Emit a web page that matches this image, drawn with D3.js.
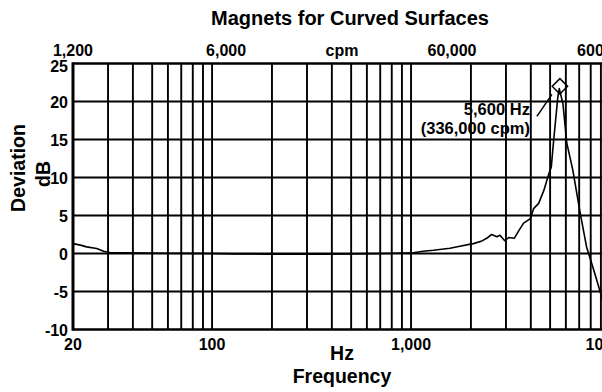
<!DOCTYPE html>
<html>
<head>
<meta charset="utf-8">
<script src="https://cdn.jsdelivr.net/npm/d3@7"></script>
<style>
  body { margin: 0; background: #fff; }
  svg { display: block; font-family: Arial, "Liberation Sans", sans-serif; font-weight: bold; }
</style>
</head>
<body>
<svg id="chart" width="602" height="392"></svg>
<script>
// Frequency response of the magnet mount (Hz vs. deviation in dB)
const freqHz = [20, 21.8, 23.4, 26.3, 28.5, 30.6, 37, 45, 60, 80, 100, 130, 180, 250, 350, 500, 724, 1027, 1149, 1295, 1570, 1760, 1960, 2060, 2250, 2400, 2540, 2700, 2800, 2950, 3100, 3300, 3500, 3680, 3980, 4130, 4380, 4650, 4930, 5070, 5210, 5390, 5470, 5560, 5800, 6070, 6500, 7040, 7620, 8380, 8870, 9500];
const devDb  = [1.3, 1.1, 0.87, 0.66, 0.3, 0.13, 0.1, 0.05, 0.03, 0.02, 0.0, -0.05, -0.08, -0.1, -0.08, -0.05, 0.0, 0.1, 0.3, 0.43, 0.7, 0.96, 1.2, 1.3, 1.6, 2.0, 2.5, 2.2, 2.4, 1.7, 2.1, 2.0, 3.1, 4.0, 4.6, 5.9, 6.6, 8.3, 10.5, 11.4, 14.9, 18.9, 20.6, 21.7, 19.7, 14.5, 11.0, 5.7, 0.9, -2.6, -4.8, -7.5];

const yTicks = [-10, -5, 0, 5, 10, 15, 20, 25];
const hzTicks = [20, 100, 1000, 10000];
const cpmTicks = [1200, 6000, 60000, 600000];
const gridHz = [20, 30, 40, 50, 60, 70, 80, 90, 100,
                200, 300, 400, 500, 600, 700, 800, 900, 1000,
                2000, 3000, 4000, 5000, 6000, 7000, 8000, 9000, 10000];
const peakHz = 5600;
const peakDb = 22;
const peakCpm = 336000;

const svg = d3.select("#chart");
const plotL = 73, plotR = 610, plotT = 63.5, plotB = 329.5;

const x = d3.scaleLog().domain([20, 10000]).range([plotL, plotR]);
const y = d3.scaleLinear().domain([-10, 25]).range([plotB, plotT]);
const fmt = d3.format(",");

// grid
svg.append("g").selectAll("line").data(gridHz).join("line")
  .attr("x1", d => x(d)).attr("x2", d => x(d))
  .attr("y1", plotT).attr("y2", plotB)
  .attr("stroke", "#000").attr("stroke-width", 1.9);
svg.append("g").selectAll("line").data(yTicks).join("line")
  .attr("x1", plotL).attr("x2", plotR)
  .attr("y1", d => y(d)).attr("y2", d => y(d))
  .attr("stroke", "#000").attr("stroke-width", d => (d === 25 || d === -10) ? 2.6 : 1.9);
svg.append("line").attr("x1", plotL).attr("x2", plotL).attr("y1", plotT - 1.3).attr("y2", plotB + 1.3)
  .attr("stroke", "#000").attr("stroke-width", 3);

// y tick labels
svg.append("g").selectAll("text").data(yTicks).join("text")
  .attr("x", plotL - 5).attr("y", d => y(d)).attr("dy", d => d === 25 ? "0.5em" : "0.4em")
  .attr("text-anchor", "end").attr("font-size", 16).text(d => d);

// bottom tick labels
svg.append("g").selectAll("text").data(hzTicks).join("text")
  .attr("x", d => x(d)).attr("y", 350)
  .attr("text-anchor", "middle").attr("font-size", 16).text(d => fmt(d));

// top cpm labels
const cpmShift = [0, 14, 41, -4];
svg.append("g").selectAll("text").data(cpmTicks).join("text")
  .attr("x", (d, i) => x(d / 60) + cpmShift[i]).attr("y", 56)
  .attr("text-anchor", "middle").attr("font-size", 16).text(d => fmt(d));
svg.append("text").attr("x", 342).attr("y", 56).attr("text-anchor", "middle")
  .attr("font-size", 16).text("cpm");

// titles
svg.append("text").attr("x", 350).attr("y", 25).attr("text-anchor", "middle")
  .attr("font-size", 20).text("Magnets for Curved Surfaces");
svg.append("text").attr("x", 342).attr("y", 360).attr("text-anchor", "middle")
  .attr("font-size", 19.5).text("Hz");
svg.append("text").attr("x", 342).attr("y", 383).attr("text-anchor", "middle")
  .attr("font-size", 19.5).text("Frequency");
svg.append("text").attr("transform", "translate(25,168) rotate(-90)").attr("text-anchor", "middle")
  .attr("font-size", 19.5).text("Deviation");
svg.append("text").attr("transform", "translate(50,174) rotate(-90)").attr("text-anchor", "middle")
  .attr("font-size", 19.5).text("dB");

// response curve
const line = d3.line().x((d, i) => x(freqHz[i])).y(d => y(d)).curve(d3.curveLinear);
svg.append("path").datum(devDb).attr("d", line)
  .attr("fill", "none").attr("stroke", "#000").attr("stroke-width", 1.6)
  .attr("stroke-linejoin", "round");

// resonance marker and callout
const px = x(peakHz), py = y(peakDb);
svg.append("path").attr("d", d3.symbol(d3.symbolDiamond2, 150)())
  .attr("transform", `translate(${px},${py})`)
  .attr("fill", "none").attr("stroke", "#000").attr("stroke-width", 1.5);
svg.append("line").attr("x1", px - 23).attr("y1", py + 30).attr("x2", px - 8).attr("y2", py + 8)
  .attr("stroke", "#000").attr("stroke-width", 1.5);
svg.append("text").attr("x", px - 30).attr("y", py + 29).attr("text-anchor", "end")
  .attr("font-size", 16.5).text(`${fmt(peakHz)} Hz`);
svg.append("text").attr("x", px - 30).attr("y", py + 48).attr("text-anchor", "end")
  .attr("font-size", 16.5).text(`(${fmt(peakCpm)} cpm)`);
</script>
</body>
</html>
